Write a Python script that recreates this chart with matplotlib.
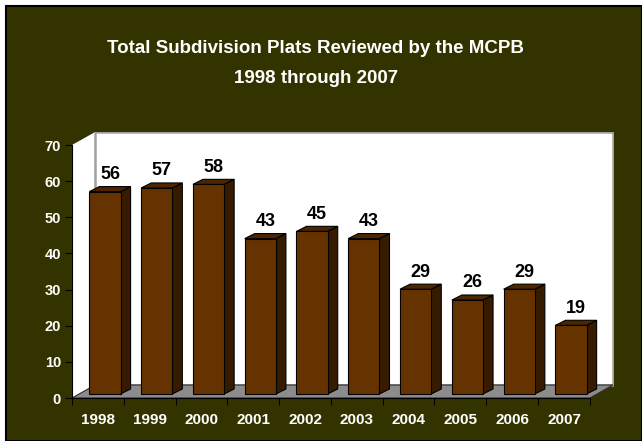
import matplotlib.pyplot as plt
from matplotlib.patches import Polygon, Rectangle

years = ['1998', '1999', '2000', '2001', '2002', '2003', '2004', '2005', '2006', '2007']
plats = [56, 57, 58, 43, 45, 43, 29, 26, 29, 19]

plt.rcParams['font.family'] = ['Liberation Sans', 'DejaVu Sans']
plt.rcParams['font.weight'] = 'bold'

bg = '#333300'
front = '#663300'
side = '#361b00'
top = '#4d2600'

fig = plt.figure(figsize=(6.42, 4.41), dpi=100)
fig.patch.set_facecolor('white')
# dark panel with black frame
fig.patches.append(Rectangle((6 / 642, 0), 1 - 6 / 642, 1 - 6 / 441, transform=fig.transFigure,
                             facecolor=bg, edgecolor='black', linewidth=1.5, zorder=-10))

fig.text(0.492, 0.891, 'Total Subdivision Plats Reviewed by the MCPB', color='white',
         fontsize=13.5, fontweight='bold', ha='center', va='center')
fig.text(0.492, 0.822, '1998 through 2007', color='white',
         fontsize=13.5, fontweight='bold', ha='center', va='center')

ax = fig.add_axes([72 / 642, 43 / 441, 542 / 642, 266 / 441])
ax.set_facecolor('none')

n = len(years)
DX, DY = 23 / 51.5, 13 / 3.614  # depth of the chart walls (data units)
ox, oy = 7 / 51.5, 1.1           # bar position inside the depth
bw = 31 / 51.5
sdx, sdy = 10 / 51.5, 1.4        # bar depth

# walls and floor
ax.add_patch(Polygon([(0, 0), (0, 70), (DX, 70 + DY), (DX, DY)], closed=True,
                     facecolor='white', edgecolor='none', zorder=1))
ax.add_patch(Rectangle((DX, DY), n, 70, facecolor='white', edgecolor='#a0a0a0',
                       linewidth=1.8, zorder=1))
ax.add_patch(Polygon([(0, 0), (n, 0), (n + DX, DY), (DX, DY)], closed=True,
                     facecolor='#8c8c8c', edgecolor='#303030', linewidth=0.8, zorder=2))

for i, v in enumerate(plats):
    x0 = i + (1 - bw) / 2 + ox
    x1 = x0 + bw
    y0 = oy
    y1 = v + oy
    ax.add_patch(Polygon([(x1, y0), (x1 + sdx, y0 + sdy), (x1 + sdx, y1 + sdy), (x1, y1)],
                         closed=True, facecolor=side, edgecolor='black', linewidth=0.8, zorder=3))
    ax.add_patch(Polygon([(x0, y1), (x1, y1), (x1 + sdx, y1 + sdy), (x0 + sdx, y1 + sdy)],
                         closed=True, facecolor=top, edgecolor='black', linewidth=0.8, zorder=3))
    ax.add_patch(Rectangle((x0, y0), bw, v, facecolor=front, edgecolor='black',
                           linewidth=0.8, zorder=4))
    ax.text(x0 + bw / 2 + sdx / 2, y1 + sdy + 1.0, str(v), ha='center', va='bottom',
            fontsize=13, fontweight='bold', color='black', zorder=5)

ax.set_xlim(0, n + DX + 0.02)
ax.set_ylim(0, 70 + DY)

ax.spines['top'].set_visible(False)
ax.spines['right'].set_visible(False)
ax.spines['left'].set_bounds(0, 70)
ax.spines['bottom'].set_bounds(0, n)
ax.spines['left'].set_zorder(6)
ax.spines['bottom'].set_zorder(6)

ax.set_yticks(range(0, 71, 10))
ax.tick_params(axis='y', colors='black', labelcolor='white', labelsize=10.5, length=5, pad=3)
ax.set_xticks(range(n + 1))
ax.set_xticklabels([])
ax.tick_params(axis='x', colors='black', length=5)
ax.set_xticks([i + 0.5 for i in range(n)], minor=True)
ax.set_xticklabels(years, minor=True)
ax.tick_params(axis='x', which='minor', length=0, labelcolor='white', labelsize=11, pad=11)
for lab in ax.get_yticklabels() + ax.get_xticklabels(minor=True):
    lab.set_fontweight('bold')

fig.savefig('out.png', dpi=100, facecolor=fig.get_facecolor())
